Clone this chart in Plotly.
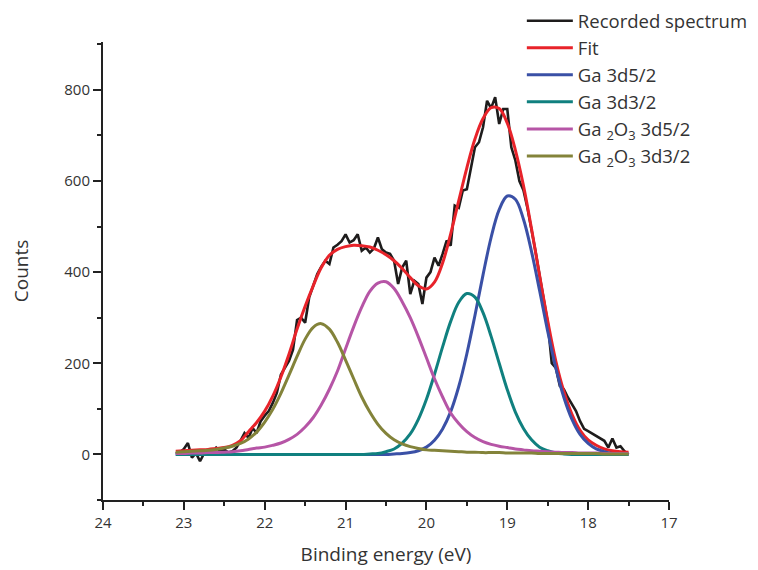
import plotly.graph_objects as go

# recorded spectrum, 0.05 eV steps from 23.10 down to 17.50 eV
SPEC_X = [round(23.10 - 0.05 * i, 2) for i in range(113)]
SPEC_Y = [
    2, 5, 12, 25, -7, 3, -15, 2, 5, 3,
    15, 7, 11, 4, 7, 15, 30, 47, 36, 58,
    47, 73, 85, 95, 113, 135, 175, 190, 205, 230,
    295, 300, 289, 345, 370, 396, 412, 425, 418, 454,
    460, 468, 483, 465, 470, 483, 447, 454, 443, 452,
    476, 450, 443, 440, 425, 374, 410, 425, 352, 381,
    374, 330, 388, 400, 432, 414, 440, 469, 458, 546,
    541, 579, 582, 630, 674, 685, 718, 776, 760, 784,
    725, 758, 758, 674, 645, 600, 580, 540, 495, 445,
    392, 340, 290, 200, 190, 150, 143, 125, 110, 95,
    73, 56, 51, 46, 40, 35, 30, 15, 35, 15,
    18, 7, 0,
]

# fit curves, 0.1 eV steps from 23.1 down to 17.5 eV
FIT_X = [round(23.1 - 0.1 * i, 1) for i in range(57)]
FIT_Y = [
    7, 8, 9, 10, 11, 13, 15, 20, 30, 50, 70, 95, 128, 170, 220, 275, 325, 370, 410, 437,
    450, 456, 459, 458, 455, 448, 438, 425, 408, 388, 370, 363, 378, 420, 484, 557, 629, 692, 737, 761,
    759, 727, 668, 590, 495, 392, 293, 205, 138, 88, 53, 32, 20, 12, 8, 6, 5,
]
GA_3D52 = [
    0, 0, 0, 0, 0, 0, 0, 0, 0, 0, 0, 0, 0, 0, 0, 0, 0, 0, 0, 0,
    0, 0, 0, 0, 0, 0, 0, 1, 2, 4, 8, 16, 31, 56, 94, 149, 221, 305, 394, 476,
    537, 567, 560, 516, 445, 359, 270, 190, 125, 77, 44, 24, 12, 6, 2, 1, 0,
]
GA_3D32 = [
    0, 0, 0, 0, 0, 0, 0, 0, 0, 0, 0, 0, 0, 0, 0, 0, 0, 0, 0, 0,
    0, 0, 0, 0, 1, 2, 6, 12, 25, 45, 77, 121, 176, 236, 292, 334, 353, 345, 311, 259,
    200, 142, 93, 57, 32, 16, 8, 3, 1, 0, 0, 0, 0, 0, 0, 0, 0,
]
GA2O3_3D52 = [
    2, 2, 3, 3, 4, 4, 5, 6, 8, 11, 14, 16, 20, 25, 33, 44, 60, 81, 109, 143,
    183, 232, 280, 323, 358, 376, 379, 364, 335, 300, 258, 212, 166, 126, 91, 68, 50, 37, 28, 22,
    18, 15, 12, 10, 8, 7, 6, 5, 4, 4, 3, 3, 3, 2, 2, 2, 2,
]
GA2O3_3D32 = [
    5, 6, 7, 8, 9, 11, 14, 18, 24, 34, 49, 71, 99, 134, 174, 215, 253, 279, 287, 275,
    246, 207, 166, 126, 93, 66, 46, 32, 23, 17, 13, 10, 9, 8, 7, 6, 5, 5, 4, 4,
    4, 3, 3, 3, 3, 2, 2, 2, 2, 2, 2, 2, 2, 1, 1, 1, 1,
]

COMPONENTS = [
    ("Ga 3d5/2", GA_3D52, "#3a50a6"),
    ("Ga 3d3/2", GA_3D32, "#10807f"),
    ("Ga <sub>2</sub>O<sub>3</sub> 3d5/2", GA2O3_3D52, "#b655a6"),
    ("Ga <sub>2</sub>O<sub>3</sub> 3d3/2", GA2O3_3D32, "#83833a"),
]

fig = go.Figure()
fig.add_trace(go.Scatter(x=SPEC_X, y=SPEC_Y, mode="lines", name="Recorded spectrum",
                         line=dict(color="#1e1c1c", width=2.6)))
fig.add_trace(go.Scatter(x=FIT_X, y=FIT_Y, mode="lines", name="Fit", line_shape="spline",
                         line=dict(color="#e8232a", width=3)))
for name, y, col in COMPONENTS:
    fig.add_trace(go.Scatter(x=FIT_X, y=y, mode="lines", name=name, line_shape="spline",
                             line=dict(color=col, width=3)))

axis_style = dict(
    showline=True, linewidth=2, linecolor="#222", showgrid=False, zeroline=False,
    ticks="outside", ticklen=8, tickwidth=2, tickcolor="#222",
    tickfont=dict(size=15, color="#333"),
)
fig.update_xaxes(range=[24, 17], tick0=17, dtick=1,
                 minor=dict(dtick=0.5, ticks="outside", ticklen=4, tickwidth=2, tickcolor="#222"),
                 title=dict(text="Binding energy (eV)", font=dict(size=19, color="#333"),
                            standoff=17),
                 **axis_style)
fig.update_yaxes(range=[-100, 905], tick0=0, dtick=200,
                 minor=dict(dtick=100, ticks="outside", ticklen=4, tickwidth=2, tickcolor="#222"),
                 title=dict(text="Counts", font=dict(size=19, color="#333"), standoff=32),
                 **axis_style)

# the page body adds an 8 px offset, so margins are shifted to compensate
fig.update_layout(
    width=758, height=570,
    margin=dict(l=95, r=97, t=34, b=78, autoexpand=False),
    plot_bgcolor="white", paper_bgcolor="white",
    font=dict(family="Open Sans, sans-serif", color="#333"),
    legend=dict(x=0.740, y=1.087, xanchor="left", yanchor="top",
                font=dict(size=18.5, color="#333"), bgcolor="rgba(0,0,0,0)",
                tracegroupgap=0, itemwidth=46),
)

fig.write_html("out.html")
